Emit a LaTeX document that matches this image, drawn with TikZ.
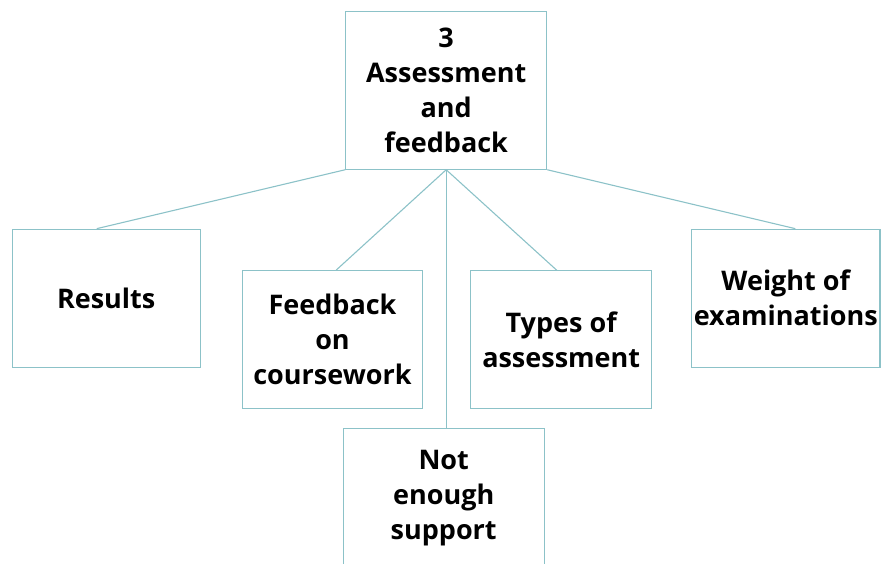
\documentclass[tikz,border=0pt]{standalone}
\usepackage{fontspec}
\setmainfont{Open Sans}
\usetikzlibrary{calc}
\definecolor{edgeblue}{RGB}{140,194,200}
\tikzset{
  topic/.style={draw=edgeblue, line width=1.1pt, fill=white, align=center,
    font=\bfseries\fontsize{27}{35}\selectfont, inner sep=0pt, text=black},
  link/.style={draw=edgeblue, line width=1.1pt}
}
\begin{document}
\begin{tikzpicture}[x=1pt,y=-1pt]
\useasboundingbox (0,0) rectangle (887,563);
\clip (0,0) rectangle (887,563);
% root box
\node[topic, minimum width=201pt, minimum height=158pt] (root) at (446.2,90.2) {3\\Assessment\\and\\feedback};
% second-level boxes
\node[topic, minimum width=187.7pt, minimum height=138pt] (res) at (106.2,298.2) {Results};
\node[topic, minimum width=180.4pt, minimum height=138pt] (fb) at (332.5,339.7) {Feedback\\on\\coursework};
\node[topic, minimum width=181pt, minimum height=138pt] (types) at (561.2,339.7) {Types of\\assessment};
\node[topic, minimum width=188.3pt, minimum height=138pt] (wt) at (785.8,298.2) {Weight of\\examinations};
\node[topic, minimum width=200.7pt, minimum height=138pt] (sup) at (443.7,497.7) {Not\\enough\\support};
% connectors
\draw[link] (root.south west) -- ($(res.north west)!0.45!(res.north east)$);
\draw[link] (root.south east) -- ($(wt.north west)!0.55!(wt.north east)$);
\draw[link] (root.south) -- ($(fb.north west)!0.52!(fb.north east)$);
\draw[link] (root.south) -- ($(types.north west)!0.475!(types.north east)$);
\draw[link] (root.south) -- (root.south |- sup.north);
\end{tikzpicture}
\end{document}
